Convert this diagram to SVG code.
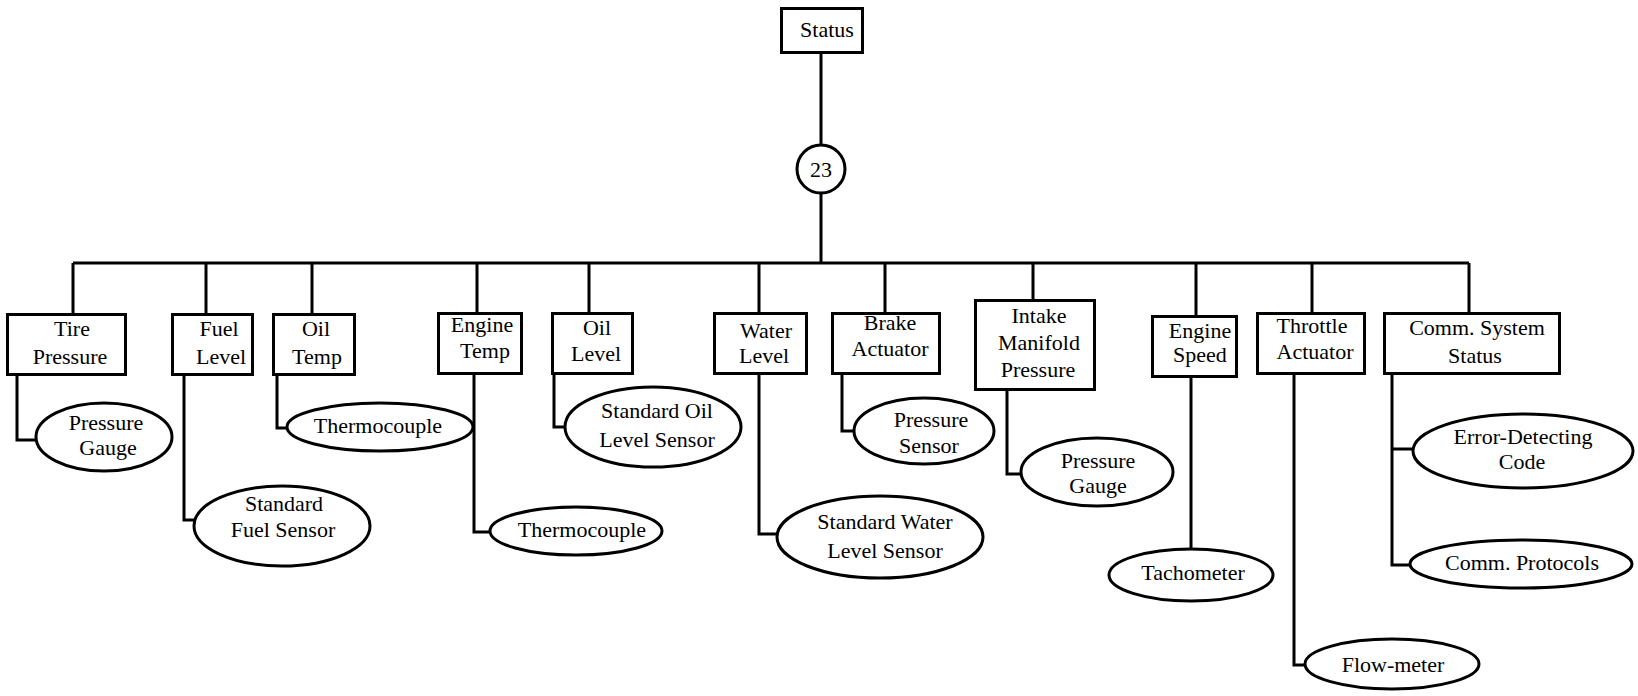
<svg xmlns="http://www.w3.org/2000/svg" width="1638" height="696" viewBox="0 0 1638 696">
  <style>
    .box { fill: #fff; stroke: #000; stroke-width: 3; }
    .oval { fill: #fff; stroke: #000; stroke-width: 3; }
    .wire { fill: none; stroke: #000; stroke-width: 3; }
    .lbl { font-family: "Liberation Serif", "Times New Roman", serif; font-size: 22px; fill: #000; text-anchor: middle; }
  </style>
  <rect width="1638" height="696" fill="#fff"/>

  <!-- connectors: trunk, bus, drops to subsystems, elbows to sensors -->
  <g id="connectors" class="wire">
    <path d="M821 54 V145 M821 193 V263"/>
    <path d="M73 263 H1469"/>
    <path d="M73 263 V313 M206 263 V313 M312 263 V313 M477 263 V312 M589 263 V312 M759 263 V312 M885 263 V312 M1033 263 V299 M1196 263 V315 M1312 263 V312 M1469 263 V312"/>
    <path d="M17 376 V440 H35"/>
    <path d="M184 376 V520 H194"/>
    <path d="M277 376 V428 H287"/>
    <path d="M474 375 V532 H490"/>
    <path d="M554 375 V427 H565"/>
    <path d="M759 375 V534 H777"/>
    <path d="M842 375 V431 H854"/>
    <path d="M1007 391 V474 H1021"/>
    <path d="M1191 378 V548"/>
    <path d="M1294 375 V665 H1305"/>
    <path d="M1392 375 V565 H1409 M1392 449 H1413"/>
  </g>

  <g class="lbl">
    <!-- root -->
    <g id="status">
      <rect class="box" x="781.5" y="8.5" width="81" height="44"/>
      <text x="827" y="37">Status</text>
    </g>
    <g id="hub">
      <circle class="oval" cx="821" cy="169" r="24"/>
      <text x="821" y="177">23</text>
    </g>

    <!-- subsystems -->
    <g id="tire-pressure">
      <rect class="box" x="7.5" y="314.5" width="118" height="60"/>
      <text x="72" y="336">Tire</text>
      <text x="70" y="364">Pressure</text>
    </g>
    <g id="fuel-level">
      <rect class="box" x="172.5" y="314.5" width="80" height="60"/>
      <text x="219" y="336">Fuel</text>
      <text x="221" y="364">Level</text>
    </g>
    <g id="oil-temp">
      <rect class="box" x="273.5" y="314.5" width="81" height="60"/>
      <text x="316" y="336">Oil</text>
      <text x="317" y="364">Temp</text>
    </g>
    <g id="engine-temp">
      <rect class="box" x="438.5" y="313.5" width="83" height="60"/>
      <text x="482" y="332">Engine</text>
      <text x="485" y="358">Temp</text>
    </g>
    <g id="oil-level">
      <rect class="box" x="552.5" y="313.5" width="80" height="60"/>
      <text x="597" y="335">Oil</text>
      <text x="596" y="361">Level</text>
    </g>
    <g id="water-level">
      <rect class="box" x="714.5" y="313.5" width="92" height="60"/>
      <text x="766" y="338">Water</text>
      <text x="764" y="363">Level</text>
    </g>
    <g id="brake-actuator">
      <rect class="box" x="832.5" y="313.5" width="107" height="60"/>
      <text x="890" y="330">Brake</text>
      <text x="890" y="356">Actuator</text>
    </g>
    <g id="intake-manifold-pressure">
      <rect class="box" x="975.5" y="300.5" width="119" height="89"/>
      <text x="1039" y="323">Intake</text>
      <text x="1039" y="350">Manifold</text>
      <text x="1038" y="377">Pressure</text>
    </g>
    <g id="engine-speed">
      <rect class="box" x="1152.5" y="316.5" width="84" height="60"/>
      <text x="1200" y="338">Engine</text>
      <text x="1200" y="362">Speed</text>
    </g>
    <g id="throttle-actuator">
      <rect class="box" x="1257.5" y="313.5" width="107" height="60"/>
      <text x="1312" y="333">Throttle</text>
      <text x="1315" y="359">Actuator</text>
    </g>
    <g id="comm-system-status">
      <rect class="box" x="1384.5" y="313.5" width="175" height="60"/>
      <text x="1477" y="335">Comm. System</text>
      <text x="1475" y="363">Status</text>
    </g>

    <!-- sensors -->
    <g id="pressure-gauge-1">
      <ellipse class="oval" cx="104" cy="437" rx="68" ry="34"/>
      <text x="106" y="430">Pressure</text>
      <text x="108" y="455">Gauge</text>
    </g>
    <g id="standard-fuel-sensor">
      <ellipse class="oval" cx="282" cy="526" rx="88" ry="40"/>
      <text x="284" y="511">Standard</text>
      <text x="283" y="537">Fuel Sensor</text>
    </g>
    <g id="thermocouple-1">
      <ellipse class="oval" cx="380" cy="427" rx="93" ry="24"/>
      <text x="378" y="433">Thermocouple</text>
    </g>
    <g id="thermocouple-2">
      <ellipse class="oval" cx="576" cy="531" rx="86" ry="24"/>
      <text x="582" y="537">Thermocouple</text>
    </g>
    <g id="standard-oil-level-sensor">
      <ellipse class="oval" cx="653" cy="427" rx="88" ry="40"/>
      <text x="657" y="418">Standard Oil</text>
      <text x="657" y="447">Level Sensor</text>
    </g>
    <g id="standard-water-level-sensor">
      <ellipse class="oval" cx="880" cy="537" rx="103" ry="41"/>
      <text x="885" y="529">Standard Water</text>
      <text x="885" y="558">Level Sensor</text>
    </g>
    <g id="pressure-sensor">
      <ellipse class="oval" cx="924" cy="431" rx="70" ry="33"/>
      <text x="931" y="427">Pressure</text>
      <text x="929" y="453">Sensor</text>
    </g>
    <g id="pressure-gauge-2">
      <ellipse class="oval" cx="1097" cy="472" rx="76" ry="34"/>
      <text x="1098" y="468">Pressure</text>
      <text x="1098" y="493">Gauge</text>
    </g>
    <g id="tachometer">
      <ellipse class="oval" cx="1191" cy="575" rx="82" ry="26"/>
      <text x="1193" y="580">Tachometer</text>
    </g>
    <g id="flow-meter">
      <ellipse class="oval" cx="1392" cy="664" rx="87" ry="25"/>
      <text x="1393" y="672">Flow-meter</text>
    </g>
    <g id="error-detecting-code">
      <ellipse class="oval" cx="1523" cy="451" rx="110" ry="37"/>
      <text x="1523" y="444">Error-Detecting</text>
      <text x="1522" y="469">Code</text>
    </g>
    <g id="comm-protocols">
      <ellipse class="oval" cx="1521" cy="564" rx="111" ry="24"/>
      <text x="1522" y="570">Comm. Protocols</text>
    </g>
  </g>
</svg>
